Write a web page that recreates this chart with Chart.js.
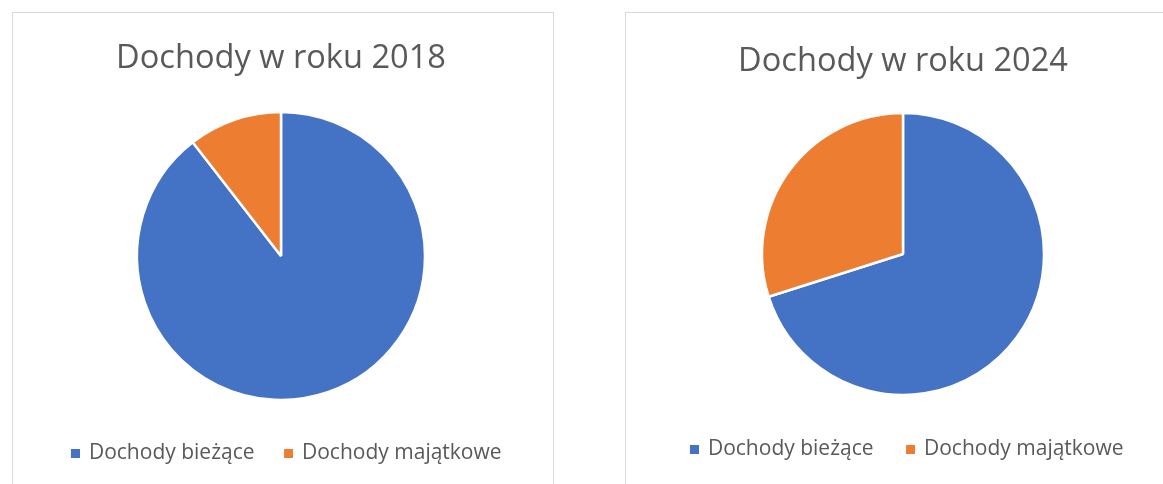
<!DOCTYPE html>
<html>
<head>
<meta charset="utf-8">
<script src="https://cdn.jsdelivr.net/npm/chart.js@4.4.1/dist/chart.umd.min.js"></script>
<style>
  html, body { margin: 0; padding: 0; background: #ffffff; width: 1163px; height: 484px; overflow: hidden; }
  .panel { position: absolute; border: 1px solid #d9d9d9; background: #fff; box-sizing: border-box; }
  #p1 { left: 12px; top: 12px; width: 542px; height: 490px; }
  #p2 { left: 625px; top: 12px; width: 556px; height: 490px; }
  canvas { display: block; }
</style>
</head>
<body>
<div class="panel" id="p1"><canvas id="c1" width="540" height="471"></canvas></div>
<div class="panel" id="p2"><canvas id="c2" width="554" height="471"></canvas></div>
<script>
const categories = ["Dochody bieżące", "Dochody majątkowe"];
const values2018 = [89.5, 10.5];
const values2024 = [70.1, 29.9];
const titles = ["Dochody w roku 2018", "Dochody w roku 2024"];
const colors = ["#4472C4", "#ED7D31"];

const FONT = "'Open Sans', 'Liberation Sans', sans-serif";

// legend marker: a small square drawn at the right end of a transparent strip
function makeMarker(color, stripWidth) {
  const c = document.createElement('canvas');
  c.width = stripWidth;
  c.height = 9;
  const g = c.getContext('2d');
  g.fillStyle = color;
  g.fillRect(stripWidth - 9, 0, 9, 9);
  return c;
}

function makePie(id, title, values, cfg) {
  new Chart(document.getElementById(id), {
    type: 'pie',
    data: {
      labels: categories,
      datasets: [{
        data: values,
        backgroundColor: colors,
        borderColor: '#ffffff',
        borderWidth: 2.5,
        radius: cfg.radius
      }]
    },
    options: {
      responsive: false,
      animation: false,
      layout: { padding: { left: 0, right: cfg.padRight, top: 0, bottom: cfg.padBottom } },
      plugins: {
        title: {
          display: true,
          text: title,
          color: '#595959',
          font: { family: FONT, size: 32.6, weight: 'normal' },
          padding: { top: cfg.titleTop, bottom: cfg.titleBottom }
        },
        legend: {
          position: 'bottom',
          labels: {
            color: '#595959',
            font: { family: FONT, size: 21 },
            usePointStyle: true,
            pointStyleWidth: cfg.pw,
            boxHeight: 9,
            padding: cfg.legendPad,
            generateLabels(chart) {
              const items = Chart.overrides.doughnut.plugins.legend.labels.generateLabels(chart);
              items.forEach((it, i) => { it.pointStyle = makeMarker(colors[i], cfg.pw + 3); });
              return items;
            }
          }
        },
        tooltip: { enabled: false }
      }
    }
  });
}

makePie('c1', titles[0], values2018, { radius: 144, padRight: 4, padBottom: 10.5, titleTop: 26, titleBottom: 10.4, pw: 18, legendPad: 19 });
makePie('c2', titles[1], values2024, { radius: 141, padRight: 0, padBottom: 14.5, titleTop: 29, titleBottom: 13.4, pw: 15, legendPad: 25 });
</script>
</body>
</html>
